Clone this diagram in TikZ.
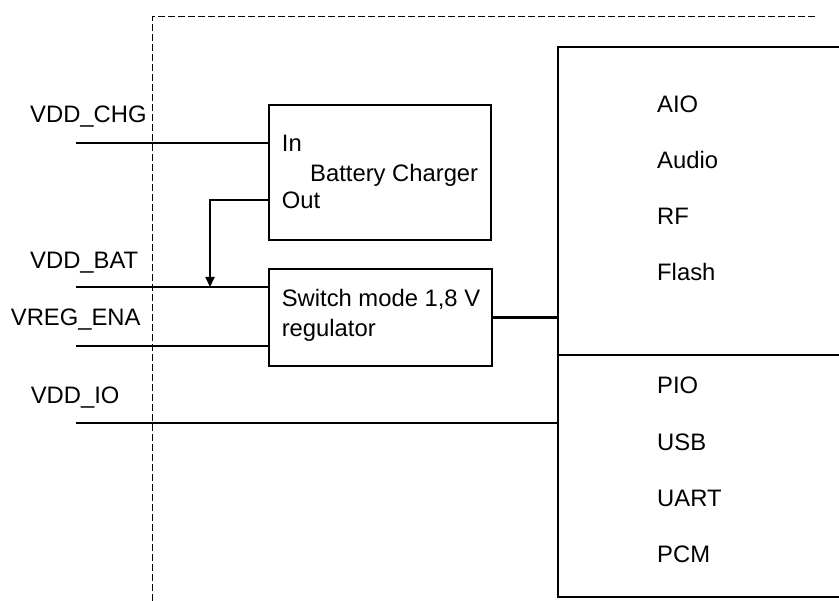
\documentclass[tikz,border=0pt]{standalone}
\usepackage{fontspec}
\setmainfont{Liberation Sans}
\usetikzlibrary{arrows.meta,calc,positioning}

\begin{document}
\begin{tikzpicture}[
        x=1pt, y=-1pt,
        every node/.style={font=\fontsize{23.8}{28}\selectfont, inner sep=0pt},
        blk/.style={draw, line width=2.2pt, minimum width=#1, anchor=north west},
        wire/.style={line width=2.2pt},
        ar/.style={-{Triangle[length=10pt,width=9pt]}, line width=2.2pt},
        bound/.style={dash pattern=on 6.5pt off 3.5pt, line width=1.5pt},
        lbl/.style={anchor=base west}
    ]
        \useasboundingbox (0,0) rectangle (839,601);
        % chip border
        \draw[bound] (152.3,601) -- (152.3,16.7) -- (815,16.7);
        % blocks
        \node[blk=222pt, minimum height=135pt] (chg) at (268,104) {};
        \node[blk=223pt, minimum height=97pt] (reg) at (268,268) {};
        \node[blk=290pt, minimum height=308pt] (core) at (557,46) {};
        \node[blk=290pt, minimum height=242pt] (io) at (557,354) {};
        % block texts
        \node[lbl] (tIn) at (281.7,151.7) {In};
        \node[lbl] (tChg) at (310,181.7) {Battery Charger};
        \node[lbl] (tOut) at (281.7,208.3) {Out};
        \node[lbl] (tReg1) at (281.6,306.7) {Switch mode 1,8 V};
        \node[lbl] (tReg2) at (281.6,336.5) {regulator};
        \foreach \name [count=\i from 0] in {AIO,Audio,RF,Flash}
            \node[lbl] (c\i) at (657,113+56*\i) {\name};
        \foreach \name [count=\i from 0] in {PIO,USB,UART,PCM}
            \node[lbl] (p\i) at (657,394+56.3*\i) {\name};
        % pins
        \coordinate (chgIn) at (75.5,143);
        \coordinate (bat) at (75.5,287);
        \coordinate (ena) at (75.5,346);
        \coordinate (vio) at (75.5,422.7);
        \coordinate (tap) at (210,287);
        \coordinate (chgOut) at (268,200);
        \node[lbl] (lChg) at (30,123) {VDD\_CHG};
        \node[lbl] (lBat) at (30,269) {VDD\_BAT};
        \node[lbl] (lEna) at (10.7,326) {VREG\_ENA};
        \node[lbl] (lIo) at (30.6,404) {VDD\_IO};
        % wires
        \draw[wire] (chgIn) -- (chgIn -| chg.west);
        \draw[wire] (bat) -- (bat -| reg.west);
        \draw[wire] (ena) -- (ena -| reg.west);
        \draw[wire] (vio) -- (vio -| io.west);
        \draw[wire] (reg.east) -- (reg.east -| core.west);
        \draw[ar] (chgOut) -| (tap);
    \end{tikzpicture}
\end{document}
